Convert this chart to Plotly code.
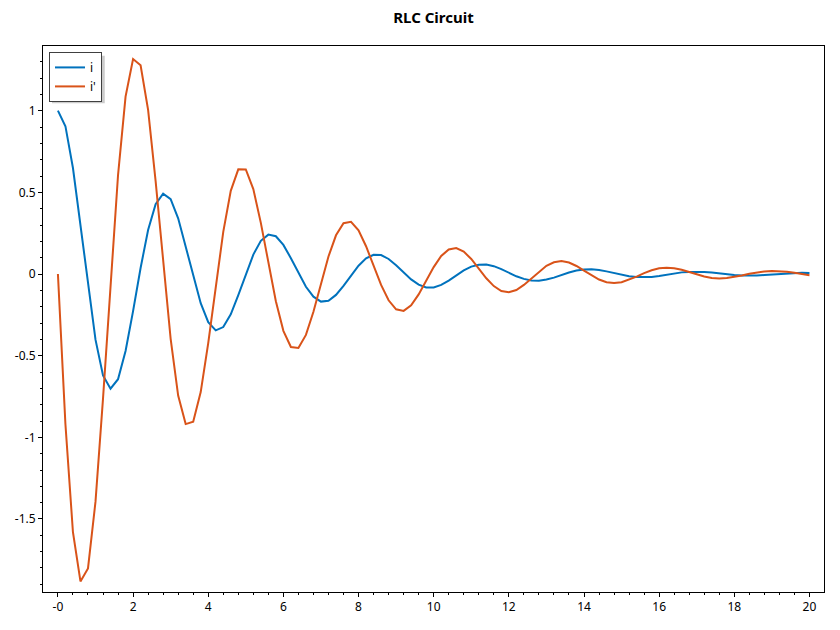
import plotly.graph_objects as go

# time samples (s)
t = [0.0, 0.2, 0.4, 0.6, 0.8, 1.0, 1.2, 1.4, 1.6, 1.8,
     2.0, 2.2, 2.4, 2.6, 2.8, 3.0, 3.2, 3.4, 3.6, 3.8,
     4.0, 4.2, 4.4, 4.6, 4.8, 5.0, 5.2, 5.4, 5.6, 5.8,
     6.0, 6.2, 6.4, 6.6, 6.8, 7.0, 7.2, 7.4, 7.6, 7.8,
     8.0, 8.2, 8.4, 8.6, 8.8, 9.0, 9.2, 9.4, 9.6, 9.8,
     10.0, 10.2, 10.4, 10.6, 10.8, 11.0, 11.2, 11.4, 11.6, 11.8,
     12.0, 12.2, 12.4, 12.6, 12.8, 13.0, 13.2, 13.4, 13.6, 13.8,
     14.0, 14.2, 14.4, 14.6, 14.8, 15.0, 15.2, 15.4, 15.6, 15.8,
     16.0, 16.2, 16.4, 16.6, 16.8, 17.0, 17.2, 17.4, 17.6, 17.8,
     18.0, 18.2, 18.4, 18.6, 18.8, 19.0, 19.2, 19.4, 19.6, 19.8,
     20.0]

# current i
i_vals = [1.000, 0.905, 0.649, 0.297, -0.078, -0.402, -0.621, -0.702, -0.644, -0.471,
          -0.227, 0.037, 0.269, 0.428, 0.492, 0.458, 0.341, 0.172, -0.014, -0.179,
          -0.295, -0.345, -0.325, -0.247, -0.130, 0.001, 0.119, 0.203, 0.241, 0.231,
          0.178, 0.097, 0.006, -0.078, -0.139, -0.169, -0.164, -0.128, -0.073, -0.008,
          0.051, 0.096, 0.118, 0.116, 0.092, 0.054, 0.009, -0.033, -0.065, -0.082,
          -0.082, -0.067, -0.040, -0.009, 0.022, 0.045, 0.057, 0.058, 0.048, 0.030,
          0.008, -0.014, -0.030, -0.040, -0.041, -0.034, -0.022, -0.006, 0.009, 0.021,
          0.028, 0.029, 0.025, 0.016, 0.005, -0.005, -0.014, -0.019, -0.020, -0.018,
          -0.012, -0.004, 0.003, 0.010, 0.013, 0.014, 0.013, 0.009, 0.003, -0.002,
          -0.006, -0.009, -0.010, -0.009, -0.006, -0.003, 0.001, 0.004, 0.006, 0.007,
          0.006]

# derivative i'
di_vals = [0.000, -0.920, -1.581, -1.882, -1.803, -1.394, -0.763, -0.049, 0.606, 1.086,
           1.316, 1.278, 1.005, 0.569, 0.069, -0.397, -0.744, -0.919, -0.905, -0.723,
           -0.423, -0.072, 0.258, 0.509, 0.641, 0.640, 0.520, 0.313, 0.068, -0.167,
           -0.348, -0.447, -0.453, -0.373, -0.231, -0.060, 0.107, 0.237, 0.311, 0.320,
           0.268, 0.170, 0.051, -0.067, -0.161, -0.216, -0.226, -0.192, -0.125, -0.041,
           0.042, 0.110, 0.150, 0.159, 0.137, 0.092, 0.033, -0.026, -0.074, -0.104,
           -0.112, -0.098, -0.067, -0.026, 0.015, 0.050, 0.072, 0.079, 0.070, 0.049,
           0.021, -0.009, -0.034, -0.050, -0.055, -0.050, -0.035, -0.016, 0.005, 0.023,
           0.035, 0.039, 0.035, 0.026, 0.012, -0.002, -0.015, -0.024, -0.027, -0.025,
           -0.019, -0.009, 0.001, 0.010, 0.016, 0.019, 0.018, 0.014, 0.007, 0.000,
           -0.007]

x_ticks = [0, 2, 4, 6, 8, 10, 12, 14, 16, 18, 20]
x_ticktext = ["-0", "2", "4", "6", "8", "10", "12", "14", "16", "18", "20"]
y_ticks = [-1.5, -1, -0.5, 0, 0.5, 1]
y_ticktext = ["-1.5", "-1", "-0.5", "0", "0.5", "1"]

FONT = "Segoe UI, Noto Sans, sans-serif"

# the page body has an 8px margin, so the figure sits at (8, 8)
OFF = 8
W, H = 840 - 2 * OFF, 630 - 2 * OFF
ML, MT = 41 - OFF, 46 - OFF
MR = W - (825 - OFF)
MB = H - (600 - OFF)
PW, PH = W - ML - MR, H - MT - MB


def px_x(p):
    # page pixel -> paper x
    return (p - OFF - ML) / PW


def px_y(p):
    # page pixel -> paper y
    return 1 - (p - OFF - MT) / PH


fig = go.Figure()
fig.add_trace(go.Scatter(x=t, y=i_vals, mode="lines", name="i",
                         line=dict(color="#0072BD", width=2)))
fig.add_trace(go.Scatter(x=t, y=di_vals, mode="lines", name="i'",
                         line=dict(color="#D95319", width=2)))

# legend drop shadow
fig.add_shape(type="rect", xref="paper", yref="paper",
              x0=px_x(50), x1=px_x(103), y0=px_y(104), y1=px_y(56),
              fillcolor="#cccccc", line=dict(width=0), layer="above")

axis_common = dict(
    showgrid=False, zeroline=False,
    showline=True, linecolor="black", linewidth=1, mirror=True,
    ticks="outside", ticklen=4, tickcolor="black",
    tickfont=dict(family=FONT, size=12, color="black"),
)

fig.update_layout(
    width=W, height=H,
    margin=dict(l=ML, r=MR, t=MT, b=MB),
    paper_bgcolor="white", plot_bgcolor="white",
    font=dict(family=FONT, size=12, color="black"),
    title=dict(text="RLC Circuit", x=0.5, xref="paper",
               y=1 - (18 - OFF) / H, yref="container", yanchor="middle",
               font=dict(family=FONT, size=15, color="black", weight="bold")),
    showlegend=True,
    legend=dict(x=px_x(47), y=px_y(52), xanchor="left", yanchor="top",
                bgcolor="white", bordercolor="#404040", borderwidth=1,
                font=dict(family=FONT, size=12, color="black"),
                itemwidth=30),
    xaxis=dict(range=[-0.397, 20.387], tickmode="array",
               tickvals=x_ticks, ticktext=x_ticktext,
               minor=dict(tickmode="linear", tick0=0, dtick=0.4,
                          ticks="outside", ticklen=2, tickcolor="black"),
               **axis_common),
    yaxis=dict(range=[-1.947, 1.396], tickmode="array",
               tickvals=y_ticks, ticktext=y_ticktext,
               minor=dict(tickmode="linear", tick0=0, dtick=0.1,
                          ticks="outside", ticklen=2, tickcolor="black"),
               **axis_common),
)

fig.write_html("out.html")
